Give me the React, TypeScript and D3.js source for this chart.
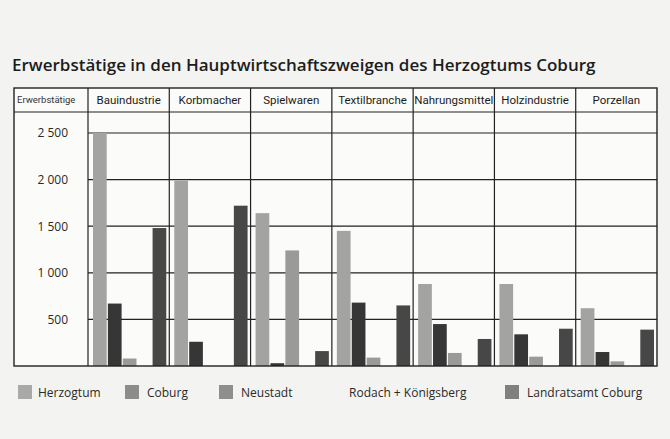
import React from "react";
import * as d3 from "d3";

// Daten
const categories = ["Bauindustrie", "Korbmacher", "Spielwaren", "Textilbranche", "Nahrungsmittel", "Holzindustrie", "Porzellan"];
const seriesNames = ["Herzogtum", "Coburg", "Neustadt", "Rodach + Königsberg", "Landratsamt Coburg"];
const herzogtum = [2500, 1990, 1640, 1450, 880, 880, 620];
const coburg = [670, 260, 30, 680, 450, 340, 150];
const neustadt = [80, 0, 1240, 90, 140, 100, 50];
const rodach = [0, 0, 0, 0, 0, 0, 0];
const landratsamt = [1480, 1720, 160, 650, 290, 400, 390];
const yTicks = [500, 1000, 1500, 2000, 2500];

const seriesValues = [herzogtum, coburg, neustadt, rodach, landratsamt];
const colors = ["#a3a3a1", "#363636", "#9a9a98", "#ffffff", "#474747"];
const legendColors = ["#a9a9a7", "#8c8c8a", "#8f8f8d", "none", "#808080"];

const App = () => {
    const svgRef = React.useRef<SVGSVGElement>(null);
    const width = 670;
    const height = 439;

    React.useEffect(() => {
        const svg = d3.select(svgRef.current);
        svg.selectAll("*").remove();

        const left = 14, plotLeft = 88, right = 657;
        const top = 88, headerBottom = 112, bottom = 366;

        svg.append("rect").attr("width", width).attr("height", height).attr("fill", "#f3f3f1");

        // Titel
        svg.append("text")
            .attr("x", 12).attr("y", 71)
            .attr("font-family", "'Open Sans', sans-serif")
            .attr("font-weight", 600)
            .attr("font-size", 17)
            .attr("fill", "#1c1c1c")
            .text("Erwerbstätige in den Hauptwirtschaftszweigen des Herzogtums Coburg");

        svg.append("rect")
            .attr("x", left).attr("y", top)
            .attr("width", right - left).attr("height", bottom - top)
            .attr("fill", "#fbfbf9");

        const x = d3.scaleBand().domain(categories).range([plotLeft, right]);
        const xInner = d3.scaleBand<number>()
            .domain(d3.range(seriesNames.length))
            .range([5, x.bandwidth() - 3])
            .paddingInner(0.08);
        const y = d3.scaleLinear().domain([0, 2500]).range([bottom, 133]);

        // Gitterlinien
        svg.append("g")
            .selectAll("line")
            .data(yTicks)
            .enter()
            .append("line")
            .attr("x1", plotLeft).attr("x2", right)
            .attr("y1", (d) => y(d)).attr("y2", (d) => y(d))
            .attr("stroke", "#222").attr("stroke-width", 1.2);

        // Balken
        categories.forEach((c, ci) => {
            svg.append("g")
                .selectAll("rect")
                .data(seriesValues.map((s, si) => ({ si, v: s[ci] })))
                .enter()
                .append("rect")
                .attr("x", (d) => (x(c) as number) + (xInner(d.si) as number))
                .attr("y", (d) => y(d.v))
                .attr("width", xInner.bandwidth())
                .attr("height", (d) => bottom - y(d.v))
                .attr("fill", (d) => colors[d.si]);
        });

        // Kopfzeile und Rahmen
        svg.append("line")
            .attr("x1", left).attr("x2", right)
            .attr("y1", headerBottom).attr("y2", headerBottom)
            .attr("stroke", "#222").attr("stroke-width", 1.2);
        svg.append("g")
            .selectAll("line")
            .data(categories)
            .enter()
            .append("line")
            .attr("x1", (d) => x(d) as number).attr("x2", (d) => x(d) as number)
            .attr("y1", top).attr("y2", bottom)
            .attr("stroke", "#222").attr("stroke-width", 1.2);
        svg.append("rect")
            .attr("x", left).attr("y", top)
            .attr("width", right - left).attr("height", bottom - top)
            .attr("fill", "none")
            .attr("stroke", "#222").attr("stroke-width", 1.4);

        svg.append("g")
            .selectAll("text")
            .data(categories)
            .enter()
            .append("text")
            .attr("x", (d) => (x(d) as number) + x.bandwidth() / 2)
            .attr("y", 104)
            .attr("text-anchor", "middle")
            .attr("font-family", "Roboto, sans-serif")
            .attr("font-size", 11.5)
            .attr("fill", "#1c1c1c")
            .text((d) => d);
        svg.append("text")
            .attr("x", 17).attr("y", 103)
            .attr("font-family", "Roboto, sans-serif")
            .attr("font-size", 9.5)
            .attr("fill", "#333")
            .text("Erwerbstätige");

        // y-Achse
        const yAxisGroup = svg.append("g")
            .attr("transform", `translate(68,0)`)
            .call(d3.axisLeft(y).tickValues(yTicks).tickSize(0).tickPadding(0)
                .tickFormat((d) => d3.format(",")(d as number).replace(",", " ")));
        yAxisGroup.select(".domain").remove();
        yAxisGroup.selectAll("text")
            .attr("font-family", "'Open Sans', sans-serif")
            .attr("font-size", 12)
            .attr("fill", "#2a2a2a");

        // Legende
        const legendX = [18, 125, 219, 330, 505];
        const legend = svg.append("g")
            .selectAll("g")
            .data(seriesNames)
            .enter()
            .append("g")
            .attr("transform", (d, i) => `translate(${legendX[i]},385)`);
        legend.append("rect")
            .attr("width", 14).attr("height", 14)
            .attr("fill", (d, i) => legendColors[i]);
        legend.append("text")
            .attr("x", (d, i) => (i === 0 ? 20 : i === 3 ? 19 : 22))
            .attr("y", 12)
            .attr("font-family", "'Open Sans', sans-serif")
            .attr("font-size", 12)
            .attr("fill", "#2a2a2a")
            .text((d) => d);
    }, []);

    return (
        <svg ref={svgRef} width={width} height={height}
            style={{ position: "absolute", left: 0, top: 0 }} />
    );
};

export default App;
